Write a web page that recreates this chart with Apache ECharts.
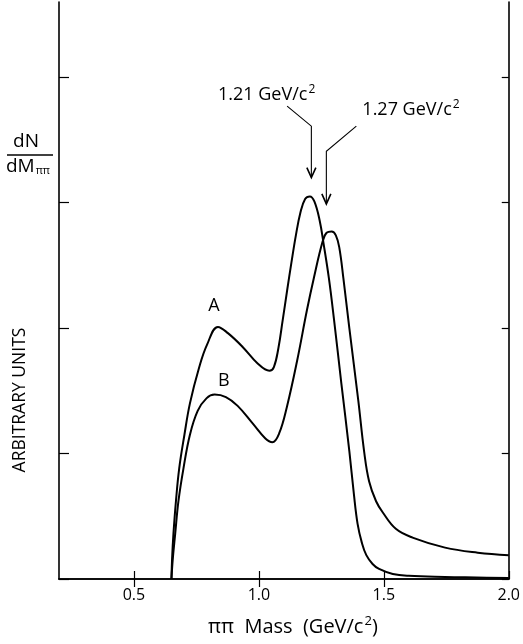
<!DOCTYPE html>
<html><head><meta charset="utf-8">
<script src="https://cdn.jsdelivr.net/npm/echarts@6/dist/echarts.min.js"></script>
<style>html,body{margin:0;padding:0;background:#fff}#c{width:523px;height:644px}</style>
</head><body><div id="c"></div>
<script>
// ---- data ----
const xTicks = [0.5, 1.0, 1.5, 2.0];
const yTicks = [0, 1, 2, 3, 4];

const massA = [0.650,0.653,0.658,0.668,0.681,0.702,0.724,0.760,0.793,0.836,0.876,0.935,0.994,1.042,1.060,1.078,1.095,1.113,1.130,1.148,1.166,1.185,1.204,1.222,1.243,1.260,1.280,1.300,1.330,1.362,1.380,1.395,1.412,1.430,1.455,1.481,1.536,1.600,1.745,1.870,2.000];
const dndmA = [0.00,0.18,0.36,0.62,0.88,1.15,1.40,1.68,1.87,2.01,1.96,1.85,1.72,1.66,1.69,1.84,2.06,2.30,2.52,2.74,2.92,3.03,3.05,3.01,2.86,2.66,2.40,2.08,1.56,1.02,0.68,0.44,0.29,0.19,0.12,0.08,0.04,0.025,0.016,0.012,0.008];

const massB = [0.650,0.655,0.665,0.678,0.698,0.724,0.755,0.790,0.823,0.868,0.915,0.975,1.026,1.054,1.081,1.113,1.153,1.192,1.220,1.255,1.271,1.291,1.308,1.322,1.338,1.362,1.398,1.421,1.441,1.469,1.496,1.548,1.615,1.745,1.876,2.000];
const dndmB = [0.00,0.15,0.36,0.62,0.88,1.15,1.34,1.44,1.47,1.45,1.38,1.24,1.12,1.09,1.16,1.38,1.74,2.14,2.40,2.69,2.76,2.77,2.74,2.64,2.40,2.00,1.42,1.02,0.78,0.62,0.53,0.40,0.33,0.25,0.21,0.19];

const peakMasses = [1.21, 1.27];
const peakLabels = ['1.21 GeV/c{sup|2}', '1.27 GeV/c{sup|2}'];
// ---------------------------------------

const FONT = '"Open Sans", sans-serif';
const chart = echarts.init(document.getElementById('c'), null, {renderer: 'canvas'});
const pairs = (xs, ys) => xs.map((x, i) => [x, ys[i]]);
const lineStyle = {color: '#000', width: 2};
const axisLine = {show: true, lineStyle: {color: '#000', width: 1.6}};
const supRich = size => ({sup: {fontSize: size, fontFamily: FONT, color: '#000', fill: '#000', padding: [0, 0, Math.round(size * 0.9), 1]}});

chart.setOption({
  animation: false,
  backgroundColor: '#fff',
  grid: {left: 59, right: 9, top: 2, bottom: 65},
  xAxis: [{
    type: 'value', min: 0.2, max: 2.0, position: 'bottom',
    axisLine: axisLine,
    axisTick: {show: true, inside: true, length: 8, customValues: xTicks, lineStyle: {color: '#000', width: 1.2}},
    axisLabel: {show: true, customValues: xTicks, margin: 8, color: '#000', fontSize: 16, fontFamily: FONT,
      formatter: v => v.toFixed(1)},
    splitLine: {show: false},
    name: 'ππ  Mass  (GeV/c{sup|2})', nameLocation: 'middle', nameGap: 36,
    nameTextStyle: {color: '#000', fontSize: 20, fontFamily: FONT, padding: [0, 0, 0, 18], rich: supRich(13)}
  }, {
    type: 'value', min: 0.2, max: 2.0, position: 'top',
    axisLine: axisLine,
    axisTick: {show: true, inside: true, length: 8, customValues: xTicks.slice(0, 3), lineStyle: {color: '#000', width: 1.2}},
    axisLabel: {show: false}, splitLine: {show: false}
  }],
  yAxis: [{
    type: 'value', min: 0, max: 4.6, position: 'left',
    axisLine: axisLine,
    axisTick: {show: true, inside: true, length: 10, customValues: yTicks, lineStyle: {color: '#000', width: 1.2}},
    axisLabel: {show: false}, splitLine: {show: false}
  }, {
    type: 'value', min: 0, max: 4.6, position: 'right',
    axisLine: axisLine,
    axisTick: {show: true, inside: true, length: 7, customValues: yTicks, lineStyle: {color: '#000', width: 1.2}},
    axisLabel: {show: false}, splitLine: {show: false}
  }],
  series: [
    {name: 'A', type: 'line', data: pairs(massA, dndmA), smooth: 0.4, showSymbol: false, lineStyle: lineStyle, z: 3},
    {name: 'B', type: 'line', data: pairs(massB, dndmB), smooth: 0.4, showSymbol: false, lineStyle: lineStyle, z: 3}
  ]
});

function px(x, y) { return chart.convertToPixel({xAxisIndex: 0, yAxisIndex: 0}, [x, y]); }

function arrow(massX, tipY, kneeY, endX, endY) {
  const tip = px(massX, tipY), knee = px(massX, kneeY), end = px(endX, endY);
  return [
    {type: 'polyline', shape: {points: [end, knee, tip]}, style: {stroke: '#000', lineWidth: 1.1, fill: null}},
    {type: 'polyline', shape: {points: [[tip[0] - 4.5, tip[1] - 10], tip, [tip[0] + 4.5, tip[1] - 10]]}, style: {stroke: '#000', lineWidth: 1.6, fill: null}},
  ];
}

const gA = arrow(peakMasses[0], 3.20, 3.61, 1.113, 3.77);
const gB = arrow(peakMasses[1], 2.99, 3.41, 1.39, 3.61);
const pA = px(1.113, 3.77), pB = px(1.39, 3.61);
const lblA = px(0.82, 2.18), lblB = px(0.86, 1.58);

const textStyle = (t, size, extra) => Object.assign({text: t, fill: '#000', fontSize: size, fontFamily: FONT}, extra || {});

chart.setOption({
  graphic: [
    ...gA, ...gB,
    {type: 'text', x: 218, y: pA[1] - 11, style: textStyle(peakLabels[0], 18, {textAlign: 'left', textVerticalAlign: 'middle', rich: supRich(12)})},
    {type: 'text', x: pB[0] + 6, y: pB[1] - 16, style: textStyle(peakLabels[1], 18, {textAlign: 'left', textVerticalAlign: 'middle', rich: supRich(12)})},
    {type: 'text', x: lblA[0], y: lblA[1], style: textStyle('A', 18, {textAlign: 'center', textVerticalAlign: 'middle'})},
    {type: 'text', x: lblB[0], y: lblB[1], style: textStyle('B', 18, {textAlign: 'center', textVerticalAlign: 'middle'})},
    // y-axis label: dN / dM_ππ
    {type: 'text', x: 26, y: 142, style: textStyle('dN', 19, {textAlign: 'center', textVerticalAlign: 'middle'})},
    {type: 'line', shape: {x1: 7, y1: 155, x2: 53, y2: 155}, style: {stroke: '#000', lineWidth: 1.5}},
    {type: 'text', x: 6, y: 167, style: {
      text: 'dM{s|ππ}', fill: '#000', fontSize: 19, fontFamily: FONT, textAlign: 'left', textVerticalAlign: 'middle',
      rich: {s: {fontSize: 11, fontFamily: FONT, fill: '#000', padding: [8, 0, 0, 1]}}
    }},
    {type: 'text', x: 20, y: 400, rotation: Math.PI / 2, style: textStyle('ARBITRARY UNITS', 17.5, {textAlign: 'center', textVerticalAlign: 'middle'})}
  ]
});
</script></body></html>
